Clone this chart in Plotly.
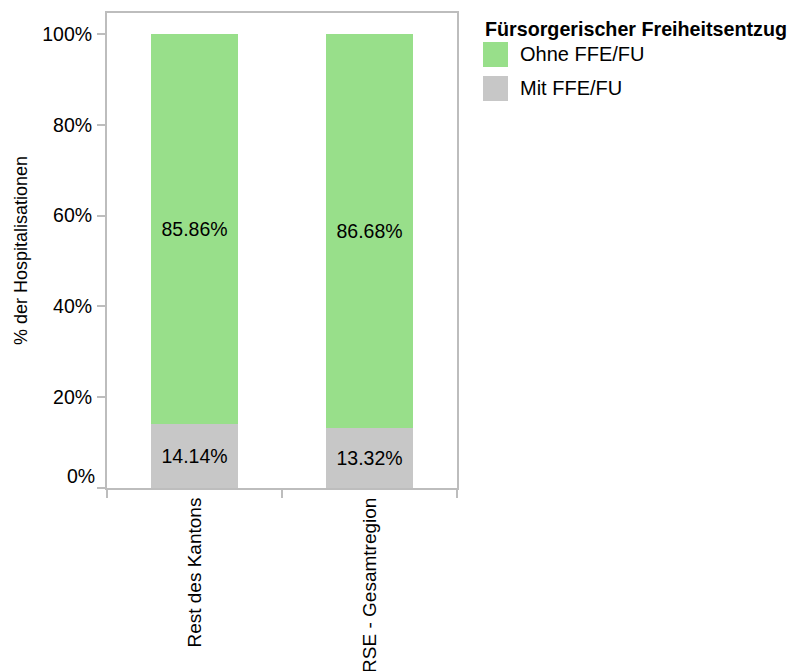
import plotly.graph_objects as go

# Data: share of hospitalisations with / without FFE/FU per region
categories = ["Rest des Kantons", "RSE - Gesamtregion"]
series_names = ["Mit FFE/FU", "Ohne FFE/FU"]
mit_values = [14.14, 13.32]
ohne_values = [85.86, 86.68]
series_values = [mit_values, ohne_values]
series_colors = ["#c7c7c7", "#98df8a"]
legend_title = "Fürsorgerischer Freiheitsentzug"
y_ticks = [0, 20, 40, 60, 80, 100]
y_ticklabels = [f"{t}%" for t in y_ticks]

FONT = "Liberation Sans, Arial, sans-serif"
AXIS_COLOR = "#bdbdbd"
TICK_SIZE = 19.5

# plot area in pixels (left, top, width, height)
PL, PT, PW, PH = 107, 13, 350, 475

fig = go.Figure()
for name, vals, color in zip(series_names, series_values, series_colors):
    fig.add_trace(go.Bar(
        x=categories,
        y=vals,
        name=name,
        marker=dict(color=color, line=dict(width=0)),
        width=0.5,
        text=[f"{v:.2f}%" for v in vals],
        textposition="inside",
        insidetextanchor="middle",
        textangle=0,
        textfont=dict(family=FONT, size=TICK_SIZE, color="#000000"),
        showlegend=False,
        hoverinfo="skip",
    ))


def px_x(x):
    return (x - PL) / PW


def px_y(y):
    return (PT + PH - y) / PH


# Legend drawn as large square swatches with labels (top item first)
legend_x0 = 483
legend_top = 42
swatch = 25
step = 34
annotations = [dict(
    xref="paper", yref="paper",
    x=px_x(legend_x0), y=px_y(29),
    xanchor="left", yanchor="middle",
    text=f"<b>{legend_title}</b>", showarrow=False,
    font=dict(family=FONT, size=19.7, color="#000000"),
)]
shapes = []
order = list(reversed(range(len(series_names))))
for i, idx in enumerate(order):
    top = legend_top + i * step
    shapes.append(dict(
        type="rect", xref="paper", yref="paper",
        x0=px_x(legend_x0), x1=px_x(legend_x0 + swatch),
        y0=px_y(top), y1=px_y(top + swatch),
        fillcolor=series_colors[idx], line=dict(width=0),
    ))
    annotations.append(dict(
        xref="paper", yref="paper",
        x=px_x(legend_x0 + swatch + 10), y=px_y(top + swatch / 2),
        xanchor="left", yanchor="middle",
        text=series_names[idx], showarrow=False,
        font=dict(family=FONT, size=20, color="#000000"),
    ))

# the lowest y label sits flush above the axis end
tick_text = list(y_ticklabels)
tick_text[0] = ""
annotations.append(dict(
    xref="paper", yref="y",
    x=px_x(PL - 11), y=y_ticks[0],
    xanchor="right", yanchor="bottom",
    text=y_ticklabels[0], showarrow=False, borderpad=0,
    font=dict(family=FONT, size=TICK_SIZE, color="#000000"),
))

fig.update_layout(
    barmode="stack",
    width=790, height=671,
    margin=dict(l=PL, r=790 - PL - PW, t=PT, b=671 - PT - PH, autoexpand=False),
    plot_bgcolor="#ffffff", paper_bgcolor="#ffffff",
    font=dict(family=FONT, size=TICK_SIZE, color="#000000"),
    shapes=shapes,
    annotations=annotations,
    xaxis=dict(
        type="category",
        range=[-0.5, 1.5],
        tickson="boundaries",
        ticks="outside", ticklen=8, tickwidth=2, tickcolor=AXIS_COLOR,
        showline=True, linecolor=AXIS_COLOR, linewidth=2, mirror=True,
        showgrid=False, zeroline=False,
        tickangle=-90,
        tickfont=dict(family=FONT, size=19, color="#000000"),
        automargin=False,
    ),
    yaxis=dict(
        range=[0, 104.6],
        tickvals=y_ticks, ticktext=tick_text,
        ticks="outside", ticklen=8, tickwidth=2, tickcolor=AXIS_COLOR,
        ticklabelstandoff=1,
        showline=True, linecolor=AXIS_COLOR, linewidth=2, mirror=True,
        showgrid=False, zeroline=False,
        tickfont=dict(family=FONT, size=TICK_SIZE, color="#000000"),
        title=dict(text="% der Hospitalisationen", standoff=10,
                   font=dict(family=FONT, size=18, color="#000000")),
        automargin=False,
    ),
)

fig.write_html("out.html")
